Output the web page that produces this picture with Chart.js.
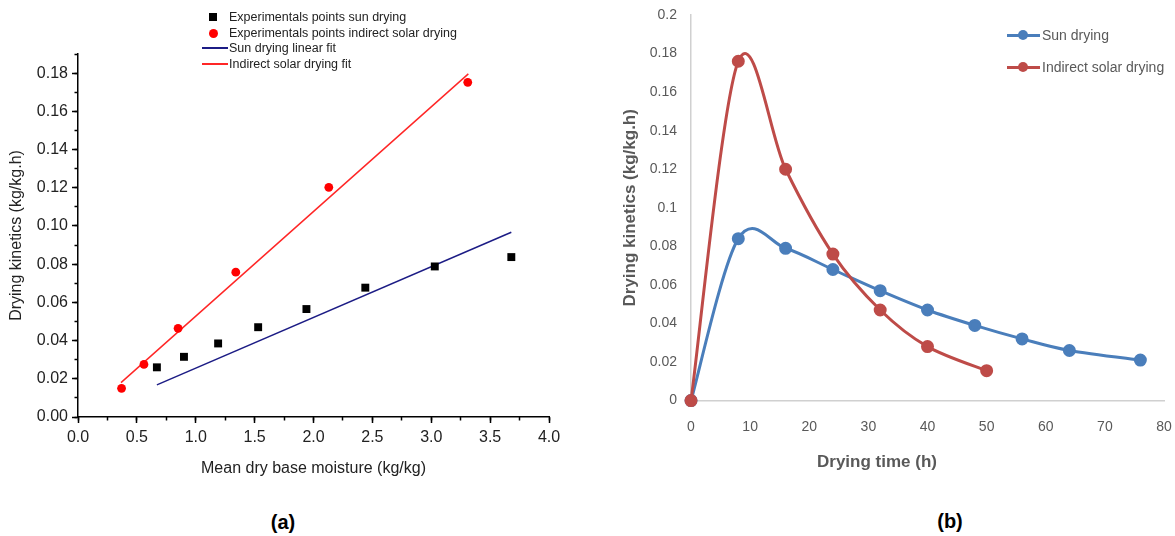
<!DOCTYPE html>
<html>
<head>
<meta charset="utf-8">
<script src="https://cdn.jsdelivr.net/npm/chart.js"></script>
<style>
  body { margin: 0; background: #fff; }
  #page { position: relative; width: 1175px; height: 536px; overflow: hidden; }
  canvas { position: absolute; top: 0; }
  #chartA { left: 0; }
  #chartB { left: 590px; }
  .txt { position: absolute; white-space: nowrap; }
  .legA { font: 12.5px "Liberation Sans", Arial, sans-serif; color: #222; line-height: 14px; }
  .legB { font: 14px "Liberation Sans", Arial, sans-serif; color: #595959; line-height: 18px; }
  .mark { position: absolute; }
  .tag { font: bold 20px "Liberation Sans", Arial, sans-serif; color: #000; transform: translate(-50%, -50%); }
</style>
</head>
<body>
<div id="page">
  <canvas id="chartA" width="580" height="480"></canvas>
  <canvas id="chartB" width="585" height="480"></canvas>
  <div id="legendA"></div>
  <div id="legendB"></div>
  <div class="txt tag" style="left:283px; top:522px;">(a)</div>
  <div class="txt tag" style="left:950px; top:521px;">(b)</div>
</div>

<script>
// ---- chart (a) : drying kinetics vs mean dry base moisture
var sunX = [0.67, 0.90, 1.19, 1.53, 1.94, 2.44, 3.03, 3.68];
var sunY = [0.026, 0.0315, 0.0385, 0.047, 0.0565, 0.0677, 0.0788, 0.0837];
var solarX = [0.37, 0.56, 0.85, 1.34, 2.13, 3.31];
var solarY = [0.015, 0.0275, 0.0464, 0.0758, 0.1202, 0.1752];
var sunFitX = [0.67, 3.68];
var sunFitY = [0.0168, 0.0967];
var solarFitX = [0.365, 3.315];
var solarFitY = [0.018, 0.1796];
var labelsA = ["Experimentals points sun drying", "Experimentals points indirect solar drying",
               "Sun drying linear fit", "Indirect solar drying fit"];

// ---- chart (b) : drying kinetics vs drying time
var timeSun = [0, 8, 16, 24, 32, 40, 48, 56, 64, 76];
var rateSun = [0, 0.084, 0.079, 0.068, 0.057, 0.047, 0.039, 0.032, 0.026, 0.021];
var timeSolar = [0, 8, 16, 24, 32, 40, 50];
var rateSolar = [0, 0.176, 0.120, 0.076, 0.047, 0.028, 0.0155];
var labelsB = ["Sun drying", "Indirect solar drying"];

var arial = "'Liberation Sans', Arial, sans-serif";

//zip two arrays into {x,y} points
function pts(xs, ys) {
  var out = [];
  for (var i = 0; i < xs.length; i++) {
    out.push({ x: xs[i], y: ys[i] });
  }
  return out;
}

//keep the plot area exactly where afterFit puts it (no label overflow padding)
function noEdgePad(s) {
  s.paddingLeft = 0;
  s.paddingRight = 0;
}

//excel style smoothing : control points at 1/6 of the neighbour chord
var excelSmooth = {
  id: "excelSmooth",
  beforeDatasetDraw: function (chart, args) {
    var line = args.meta.dataset;
    if (!line) return;
    line.updateControlPoints(chart.chartArea);
    var p = args.meta.data;
    for (var i = 0; i < p.length; i++) {
      var prev = p[Math.max(i - 1, 0)];
      var next = p[Math.min(i + 1, p.length - 1)];
      var dx = (next.x - prev.x) / 6;
      var dy = (next.y - prev.y) / 6;
      p[i].cp1x = p[i].x - dx;
      p[i].cp1y = p[i].y - dy;
      p[i].cp2x = p[i].x + dx;
      p[i].cp2y = p[i].y + dy;
    }
  }
};

var blackAxis = { color: "#000", width: 1.5 };

var chartA = new Chart(document.getElementById("chartA"), {
  type: "scatter",
  data: {
    datasets: [
      { label: labelsA[0], data: pts(sunX, sunY), pointStyle: "rect", pointRadius: 5.6,
        backgroundColor: "#000", borderColor: "#000", borderWidth: 0 },
      { label: labelsA[1], data: pts(solarX, solarY), pointStyle: "circle", pointRadius: 4.4,
        backgroundColor: "#ff0000", borderColor: "#ff0000", borderWidth: 0 },
      { label: labelsA[2], data: pts(sunFitX, sunFitY), showLine: true, pointRadius: 0,
        borderColor: "#1c1c85", borderWidth: 1.5 },
      { label: labelsA[3], data: pts(solarFitX, solarFitY), showLine: true, pointRadius: 0,
        borderColor: "#ff2626", borderWidth: 1.5 }
    ]
  },
  options: {
    responsive: false,
    animation: false,
    layout: { padding: { left: 0, top: 54, right: 31, bottom: 0 } },
    plugins: { legend: { display: false }, tooltip: { enabled: false } },
    scales: {
      x: {
        type: "linear", min: 0, max: 4, position: "bottom",
        ticks: { stepSize: 0.5, includeBounds: false, maxRotation: 0, padding: 5, color: "#222",
                 font: { family: arial, size: 16 }, callback: function (v) { return v.toFixed(1); } },
        grid: { drawOnChartArea: false, tickLength: 6, tickWidth: 1.5, tickColor: "#000" },
        border: blackAxis,
        title: { display: true, text: "Mean dry base moisture (kg/kg)", color: "#222",
                 font: { family: arial, size: 16 }, padding: { top: 0, bottom: 2 } },
        afterFit: function (s) { s.height = 63; }
      },
      x2: {
        type: "linear", min: 0, max: 4, position: "bottom", weight: -1,
        ticks: { stepSize: 0.25, display: false },
        grid: { drawOnChartArea: false, tickLength: 3.5, tickWidth: 1.5, tickColor: "#000" },
        border: { display: false },
        afterFit: function (s) { s.height = 0; }
      },
      y: {
        type: "linear", min: 0, max: 0.19, position: "left",
        ticks: { stepSize: 0.02, includeBounds: false, padding: 4, color: "#222",
                 font: { family: arial, size: 16 }, callback: function (v) { return v.toFixed(2); } },
        grid: { drawOnChartArea: false, tickLength: 6, tickWidth: 1.5, tickColor: "#000" },
        border: blackAxis,
        title: { display: true, text: "Drying kinetics (kg/kg.h)", color: "#222",
                 font: { family: arial, size: 16 }, padding: { top: 7, bottom: 0 } },
        afterFit: function (s) { s.width = 78; }
      },
      y2: {
        type: "linear", min: 0, max: 0.19, position: "left", weight: -1,
        ticks: { stepSize: 0.01, display: false },
        grid: { drawOnChartArea: false, tickLength: 3.5, tickWidth: 1.5, tickColor: "#000" },
        border: { display: false },
        afterFit: function (s) { s.width = 0; }
      }
    }
  }
});

var chartB = new Chart(document.getElementById("chartB"), {
  type: "line",
  data: {
    datasets: [
      { label: labelsB[0], data: pts(timeSun, rateSun), borderColor: "#4a7ebb", backgroundColor: "#4a7ebb",
        borderWidth: 3, pointRadius: 5, tension: 0.4, clip: false, order: 1 },
      { label: labelsB[1], data: pts(timeSolar, rateSolar), borderColor: "#be4b48", backgroundColor: "#be4b48",
        borderWidth: 3, pointRadius: 5, tension: 0.4, clip: false, order: 0 }
    ]
  },
  plugins: [excelSmooth],
  options: {
    responsive: false,
    animation: false,
    layout: { padding: { left: 0, top: 15, right: 11, bottom: 0 } },
    plugins: {
      legend: { display: false },
      tooltip: { enabled: false },
      title: { display: true, position: "bottom", text: "Drying time (h)", color: "#595959",
               font: { family: arial, size: 17, weight: "bold" }, padding: { top: 12, bottom: 7 } }
    },
    scales: {
      x: {
        type: "linear", min: 0, max: 80,
        ticks: { stepSize: 10, maxRotation: 0, padding: 10, color: "#595959", font: { family: arial, size: 14 } },
        grid: { display: false },
        border: { color: "#d0d0d0", width: 1.5 },
        afterFit: function (s) { s.height = 40; noEdgePad(s); }
      },
      y: {
        type: "linear", min: 0, max: 0.2,
        ticks: { stepSize: 0.02, padding: 6, color: "#595959", font: { family: arial, size: 14 },
                 callback: function (v) { return String(+v.toFixed(2)); } },
        grid: { display: false },
        border: { color: "#d0d0d0", width: 1.5 },
        title: { display: true, text: "Drying kinetics (kg/kg.h)", color: "#595959",
                 font: { family: arial, size: 17, weight: "bold" }, padding: { top: 30, bottom: 0 } },
        afterFit: function (s) { s.width = 101; }
      }
    }
  }
});

//html legends, labels taken from the datasets
function addText(parent, cls, text, left, top) {
  var d = document.createElement("div");
  d.className = "txt " + cls;
  d.style.left = left + "px";
  d.style.top = top + "px";
  d.textContent = text;
  parent.appendChild(d);
  return d;
}
function addBox(parent, left, top, w, h, color, round) {
  var d = document.createElement("div");
  d.className = "mark";
  d.style.left = left + "px";
  d.style.top = top + "px";
  d.style.width = w + "px";
  d.style.height = h + "px";
  d.style.background = color;
  if (round) d.style.borderRadius = "50%";
  parent.appendChild(d);
}

var legA = document.getElementById("legendA");
var rowsA = [17, 33, 48, 64];
chartA.data.datasets.forEach(function (ds, i) {
  var cy = rowsA[i];
  if (i == 0) addBox(legA, 209, cy - 4, 8, 8, ds.backgroundColor, false);
  if (i == 1) addBox(legA, 208.5, cy - 4.5, 9, 9, ds.backgroundColor, true);
  if (i >= 2) addBox(legA, 202, cy - 0.75, 26, 1.5, ds.borderColor, false);
  addText(legA, "legA", ds.label, 229, cy - 7);
});

var legB = document.getElementById("legendB");
var rowsB = [35, 67];
chartB.data.datasets.forEach(function (ds, i) {
  var cy = rowsB[i];
  addBox(legB, 1007, cy - 1.5, 33, 3, ds.borderColor, false);
  addBox(legB, 1018, cy - 5, 10, 10, ds.borderColor, true);
  addText(legB, "legB", ds.label, 1042, cy - 9);
});
</script>
</body>
</html>
